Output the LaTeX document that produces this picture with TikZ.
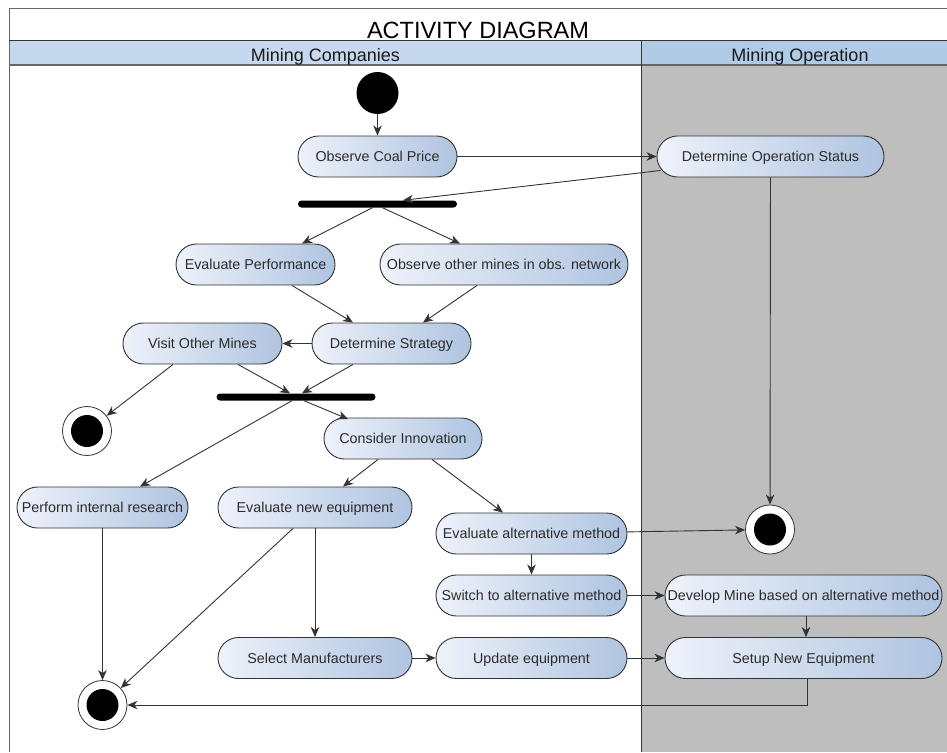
\documentclass[tikz,border=0pt]{standalone}
\usepackage{fontspec}
\setmainfont{Liberation Sans}
\usetikzlibrary{arrows.meta}
\definecolor{edgecol}{HTML}{333333}
\definecolor{framecol}{HTML}{666666}
\definecolor{actL}{HTML}{EEF2FA}
\definecolor{actR}{HTML}{AFC4E0}
\definecolor{txtcol}{HTML}{2B2B2B}
\definecolor{laneA}{HTML}{C5D8EE}
\definecolor{laneB}{HTML}{AFCBE6}
\definecolor{laneGray}{HTML}{BEBEBE}
\begin{document}
\begin{tikzpicture}[x=1pt,y=-1pt,
  >={Stealth[length=10pt,width=8.5pt,inset=3pt]},
  act/.style={draw=edgecol, line width=0.9pt, rounded corners=20.5pt,
    minimum height=41pt, inner sep=0pt, left color=actL, right color=actR,
    text=txtcol, font=\fontsize{14.3}{16}\selectfont,
    text height=10pt, text depth=0pt},
  bar/.style={fill=black, minimum width=159pt, minimum height=7pt,
    rounded corners=3.5pt, inner sep=0pt},
  initial/.style={circle, fill=black, minimum size=42pt, inner sep=0pt},
  final/.style={circle, draw=edgecol, line width=0.8pt, fill=white,
    minimum size=49pt, inner sep=0pt,
    path picture={\fill[black] (path picture bounding box.center) circle (16pt);}},
  flow/.style={->, draw=edgecol, line width=0.9pt},
  lanetext/.style={anchor=base, text=black!90, font=\fontsize{18}{20}\selectfont}
]
\useasboundingbox (0,0) rectangle (947,752);
\fill[white] (0,0) rectangle (947,752);

% swimlanes
\fill[laneGray] (641.5,65) rectangle (947,752);
\fill[laneA] (9,40) rectangle (641.5,65);
\fill[laneB] (641.5,40) rectangle (947,65);
\draw[framecol, line width=1pt] (9,752) -- (9,9) -- (947,9);
\draw[edgecol, line width=0.8pt] (9,40) -- (947,40);
\draw[framecol, line width=1.8pt] (9,65) -- (947,65);
\draw[edgecol, line width=1pt] (641.5,40) -- (641.5,752);

\node[anchor=base, font=\fontsize{23.5}{26}\selectfont] (title) at (478,39) {ACTIVITY DIAGRAM};
\node[lanetext] (laneComp) at (325.5,61) {Mining Companies};
\node[lanetext] (laneOp) at (800,61) {Mining Operation};

% activities
\node[initial] (start) at (377.5,93) {};
\node[act, minimum width=159pt] (ocp) at (377.5,156.5) {Observe Coal Price};
\node[act, minimum width=227pt] (dos) at (770.5,156.5) {Determine Operation Status};
\node[bar] (fork1) at (377.5,204) {};
\node[act, minimum width=159pt] (ep) at (255.5,264.5) {Evaluate Performance};
\node[act, minimum width=248pt] (oom) at (504,264.5) {Observe other mines in obs. network};
\node[act, minimum width=159pt] (ds) at (391.5,343.5) {Determine Strategy};
\node[act, minimum width=159pt] (vom) at (202.5,343.5) {Visit Other Mines};
\node[bar] (fork2) at (296,397) {};
\node[final] (fin1) at (87,431) {};
\node[act, minimum width=158pt] (ci) at (403,438.5) {Consider Innovation};
\node[act, minimum width=171pt] (pir) at (102.5,507.5) {Perform internal research};
\node[act, minimum width=194pt] (ene) at (315,507.5) {Evaluate new equipment};
\node[act, minimum width=191pt] (eam) at (531.5,533.5) {Evaluate alternative method};
\node[final] (fin2) at (770,529.5) {};
\node[act, minimum width=191pt] (sam) at (531.5,595.5) {Switch to alternative method};
\node[act, minimum width=277pt] (dm) at (803.5,595.5) {Develop Mine based on alternative method};
\node[act, minimum width=194pt] (sm) at (315,658) {Select Manufacturers};
\node[act, minimum width=191pt] (ue) at (531.5,658) {Update equipment};
\node[act, minimum width=277pt] (sne) at (803.5,658) {Setup New Equipment};
\node[final] (fin3) at (102.5,705) {};

% control flow
\draw[flow] (start) -- (ocp);
\draw[flow] (ocp) -- (dos);
\draw[flow] ([xshift=4pt,yshift=-14pt]dos.west) -- ([xshift=25.5pt]fork1.north);
\draw[flow] ([xshift=-5pt]fork1.south) -- ([xshift=46.5pt]ep.north);
\draw[flow] ([xshift=5pt]fork1.south) -- ([xshift=-44pt]oom.north);
\draw[flow] ([xshift=36.5pt]ep.south) -- ([xshift=-38.5pt]ds.north);
\draw[flow] ([xshift=-27pt]oom.south) -- ([xshift=31.5pt]ds.north);
\draw[flow] (ds) -- (vom);
\draw[flow] ([xshift=-29.5pt]vom.south) -- (fin1);
\draw[flow] ([xshift=35.5pt]vom.south) -- ([xshift=-6pt]fork2.north);
\draw[flow] ([xshift=-38.5pt]ds.south) -- ([xshift=6pt]fork2.north);
\draw[flow] ([xshift=8pt]fork2.south) -- ([xshift=-55pt,yshift=-1.5pt]ci.north);
\draw[flow] ([xshift=-4pt]fork2.south) -- ([xshift=37.5pt]pir.north);
\draw[flow] ([xshift=-25pt]ci.south) -- ([xshift=28pt]ene.north);
\draw[flow] ([xshift=29pt]ci.south) -- ([xshift=-28.5pt]eam.north);
\draw[flow] (pir) -- (fin3);
\draw[flow] ([xshift=-22pt]ene.south) -- (fin3);
\draw[flow] (ene) -- (sm);
\draw[flow] (sm) -- (ue);
\draw[flow] (eam) -- (fin2);
\draw[flow] (eam) -- (sam);
\draw[flow] (sam) -- (dm);
\draw[flow] (ue) -- (sne);
\draw[flow] ([xshift=2.5pt]dm.south) -- ([xshift=2.5pt]sne.north);
\draw[flow] ([xshift=3.5pt]sne.south) |- (fin3);
\draw[flow] (dos) -- (fin2);
\end{tikzpicture}
\end{document}
